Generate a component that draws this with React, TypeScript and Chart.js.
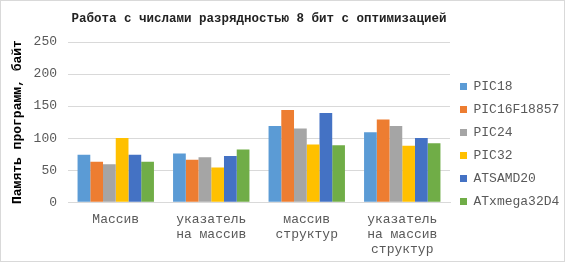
import React, { useEffect, useRef } from "react";
import { Chart, registerables } from "chart.js";

Chart.register(...registerables);

const categories: string[][] = [
  ["Массив"],
  ["указатель", "на массив"],
  ["массив", "структур"],
  ["указатель", "на массив", "структур"],
];
const seriesNames = ["PIC18", "PIC16F18857", "PIC24", "PIC32", "ATSAMD20", "ATxmega32D4"];
const pic18 = [74, 76, 119, 109];
const pic16f18857 = [63, 66, 144, 129];
const pic24 = [59, 70, 115, 119];
const pic32 = [100, 54, 90, 88];
const atsamd20 = [74, 72, 139, 100];
const atxmega32d4 = [63, 82, 89, 92];
const yTickValues = [0, 50, 100, 150, 200, 250];
const colors = ["#5B9BD5", "#ED7D31", "#A5A5A5", "#FFC000", "#4472C4", "#70AD47"];

const titleText = "Работа с числами разрядностью 8 бит с оптимизацией";
const yAxisTitle = "Память программ, байт";

const FONT = "'Liberation Mono', 'Courier New', monospace";

export default function App() {
  const ref = useRef<HTMLCanvasElement | null>(null);
  useEffect(() => {
    document.body.style.margin = "0";
    const canvas = ref.current;
    if (!canvas) return;
    const values = [pic18, pic16f18857, pic24, pic32, atsamd20, atxmega32d4];
    const chart = new Chart(canvas, {
      type: "bar",
      data: {
        labels: categories,
        datasets: seriesNames.map((name, i) => ({
          label: name,
          data: values[i],
          backgroundColor: colors[i],
          borderWidth: 0,
          barPercentage: 1,
          categoryPercentage: 0.8,
        })),
      },
      options: {
        animation: false,
        responsive: false,
        layout: { padding: { left: 9, right: 0, top: 6, bottom: 2 } },
        plugins: {
          title: {
            display: true,
            text: titleText,
            color: "#222",
            font: { family: FONT, size: 12.5, weight: "bold" },
            padding: { top: 4, bottom: 16 },
            fullSize: false,
          },
          legend: {
            position: "right",
            maxWidth: 114,
            title: {
              display: true,
              text: " ",
              font: { family: FONT, size: 10, lineHeight: 1.2 },
              padding: { top: 5, bottom: 5 },
            },
            labels: {
              boxWidth: 7,
              boxHeight: 7,
              padding: 10,
              color: "#595959",
              font: { family: FONT, size: 13 },
            },
          },
          tooltip: { enabled: false },
        },
        scales: {
          x: {
            grid: { display: false },
            border: { color: "#d9d9d9" },
            ticks: {
              color: "#595959",
              font: { family: FONT, size: 13, lineHeight: 1.15 },
              maxRotation: 0,
              autoSkip: false,
              padding: 2,
            },
          },
          y: {
            min: 0,
            max: 250,
            afterBuildTicks: (scale: any) => {
              scale.ticks = yTickValues.map((v) => ({ value: v }));
            },
            grid: { color: "#d9d9d9", drawTicks: false },
            border: { display: false },
            ticks: {
              color: "#595959",
              font: { family: FONT, size: 13 },
              padding: 11,
            },
            title: {
              display: true,
              text: yAxisTitle,
              color: "#000",
              font: { family: FONT, size: 13, weight: "bold" },
              padding: { top: 0, bottom: -3 },
            },
          },
        },
      },
    });
    return () => chart.destroy();
  }, []);
  return (
    <div
      style={{
        width: 565,
        height: 262,
        boxSizing: "border-box",
        border: "1px solid #d9d9d9",
        background: "#fff",
      }}
    >
      <canvas ref={ref} width={563} height={260} style={{ display: "block" }} />
    </div>
  );
}
